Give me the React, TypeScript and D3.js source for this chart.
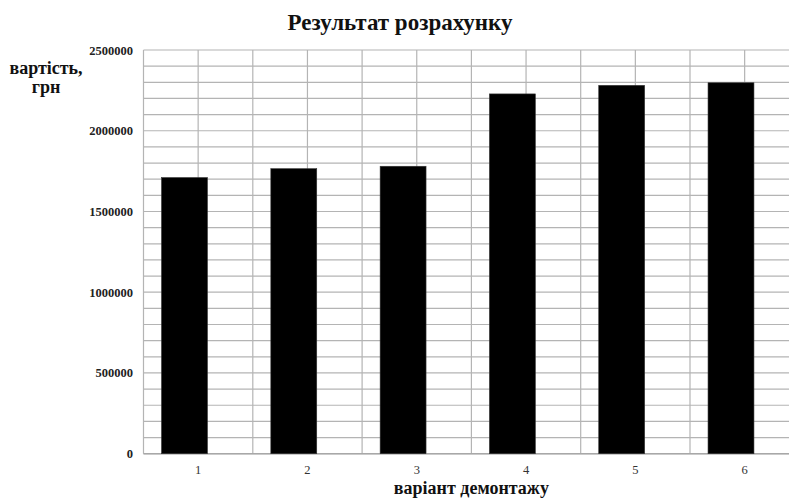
import React from "react";
import * as d3 from "d3";

const categories = ["1", "2", "3", "4", "5", "6"];
const values = [1710000, 1765000, 1780000, 2228000, 2281000, 2297000];
const yTickLabels = [0, 500000, 1000000, 1500000, 2000000, 2500000];
const yMinorStep = 100000;
const title = "Результат розрахунку";
const yTitleLines = ["вартість,", "грн"];
const xTitle = "варіант демонтажу";

const W = 789;
const H = 499;
const left = 143.5;
const right = 799.3;
const top = 50;
const bottom = 453.7;
const FONT = "Liberation Serif, DejaVu Serif, serif";
const GRID = "#b4b4b4";

export default function App() {
  const x = d3.scaleBand<string>().domain(categories).range([left, right]).padding(0);
  const y = d3.scaleLinear().domain([0, 2500000]).range([bottom, top]);
  const bw = x.bandwidth();
  const minor = d3.range(0, 2500000 + 1, yMinorStep);
  const vLines: number[] = [];
  categories.forEach((c) => {
    vLines.push(x(c)!);
    vLines.push(x(c)! + bw / 2);
  });
  vLines.push(right);
  const ts = { fontFamily: FONT };

  return (
    <svg
      width={W}
      height={H}
      style={{ position: "absolute", left: 0, top: 0, background: "#fff", fontFamily: FONT }}
    >
      <rect x={0} y={0} width={W} height={H} fill="#fff" />
      {minor.map((v) => (
        <line key={"h" + v} x1={left} x2={right} y1={y(v)} y2={y(v)} stroke={GRID} strokeWidth={1.2} />
      ))}
      {vLines.map((vx, i) => (
        <line key={"v" + i} x1={vx} x2={vx} y1={top} y2={bottom} stroke={GRID} strokeWidth={1.2} />
      ))}
      <line x1={left} x2={right} y1={bottom} y2={bottom} stroke="#a8a8a8" strokeWidth={1.6} />
      {categories.map((c, i) => (
        <rect
          key={"b" + c}
          x={x(c)! + bw * 0.165}
          y={y(values[i])}
          width={bw * 0.42}
          height={bottom - y(values[i])}
          fill="#000"
          stroke="#333"
          strokeWidth={0.6}
        />
      ))}
      {yTickLabels.map((v) => (
        <text
          key={"yl" + v}
          x={133}
          y={y(v) + 4.5}
          textAnchor="end"
          fontSize={12.5}
          fontWeight="bold"
          fill="#222"
          style={ts}
        >
          {v}
        </text>
      ))}
      {categories.map((c) => (
        <text key={"xl" + c} x={x(c)! + bw / 2} y={474} textAnchor="middle" fontSize={12.5} fill="#333" style={ts}>
          {c}
        </text>
      ))}
      <text x={400} y={30} textAnchor="middle" fontSize={23} fontWeight="bold" fill="#111" style={ts}>
        {title}
      </text>
      {yTitleLines.map((t, i) => (
        <text key={"yt" + i} x={46} y={74 + i * 19} textAnchor="middle" fontSize={18} fontWeight="bold" fill="#111" style={ts}>
          {t}
        </text>
      ))}
      <text x={(left + right) / 2} y={494} textAnchor="middle" fontSize={18} fontWeight="bold" fill="#111" style={ts}>
        {xTitle}
      </text>
    </svg>
  );
}
